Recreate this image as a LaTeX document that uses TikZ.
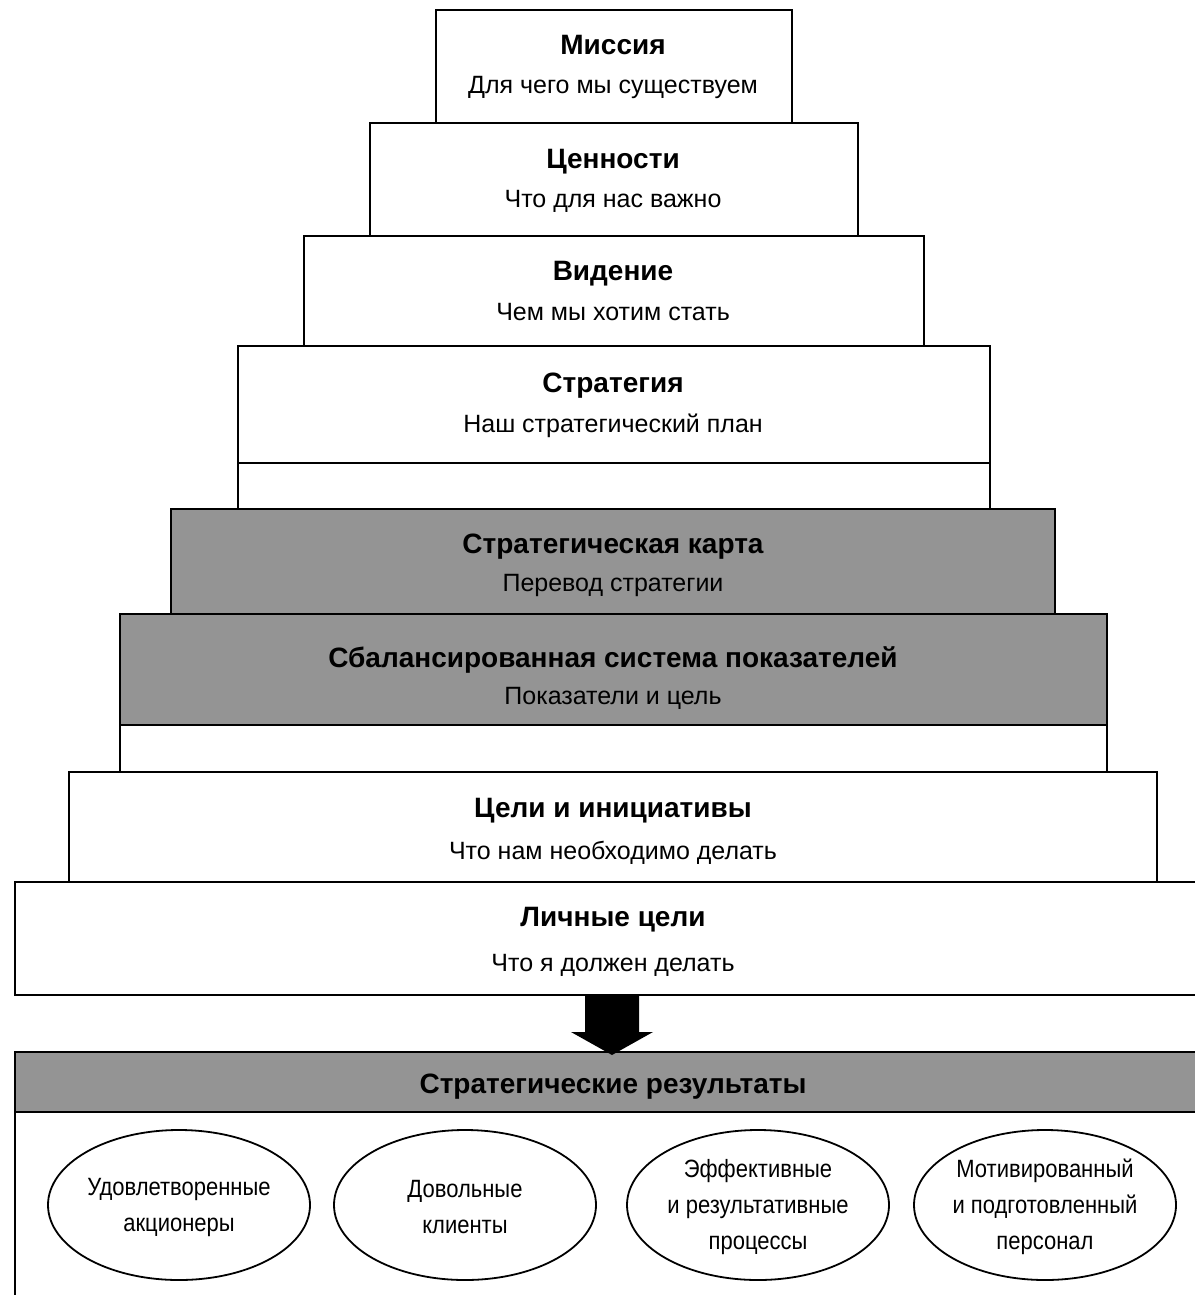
\documentclass[tikz,border=0pt]{standalone}
\usepackage{fontspec}
\setmainfont{Liberation Sans}
\newfontfamily\ovalfont{Liberation Sans}[FakeStretch=0.88]
\begin{document}
\begin{tikzpicture}[x=1pt,y=-1pt,
  box/.style={draw, line width=2.2pt, fill=white},
  shaded/.style={draw, line width=2.2pt, fill=black!42},
  ttl/.style={anchor=base, font=\bfseries\fontsize{28}{32}\selectfont, inner sep=0pt},
  sub/.style={anchor=base, font=\fontsize{25}{30}\selectfont, inner sep=0pt},
  otext/.style={inner sep=0pt, align=center, font=\ovalfont\fontsize{25}{36}\selectfont},
  oval/.style={draw, line width=1.8pt}]
\useasboundingbox (0,0) rectangle (1194,1295);

% boxes
\draw[box] (436,10) rectangle (792,123);
\draw[box] (370,123) rectangle (858,236);
\draw[box] (304,236) rectangle (924,346);
\draw[box] (238,346) rectangle (990,509);
\draw[line width=2.2pt] (238,463) -- (990,463);
\draw[shaded] (171,509) rectangle (1055,614);
\draw[box] (120,725) rectangle (1107,772);
\draw[shaded] (120,614) rectangle (1107,725);
\draw[box] (69,772) rectangle (1157,882);
\draw[box] (15,882) rectangle (1215,995);
\draw[box] (15,1112) rectangle (1215,1300);
\draw[shaded] (15,1052) rectangle (1215,1112);

% texts
\node[ttl] (t1) at (613,55) {Миссия};
\node[sub] (s1) at (613,94) {Для чего мы существуем};
\node[ttl] (t2) at (613,168) {Ценности};
\node[sub] (s2) at (613,207) {Что для нас важно};
\node[ttl] (t3) at (613,280) {Видение};
\node[sub] (s3) at (613,320) {Чем мы хотим стать};
\node[ttl] (t4) at (613,392) {Стратегия};
\node[sub] (s4) at (613,432) {Наш стратегический план};
\node[ttl] (t5) at (613,553) {Стратегическая карта};
\node[sub] (s5) at (613,591) {Перевод стратегии};
\node[ttl] (t6) at (613,667) {Сбалансированная система показателей};
\node[sub] (s6) at (613,704) {Показатели и цель};
\node[ttl] (t7) at (613,817) {Цели и инициативы};
\node[sub] (s7) at (613,859) {Что нам необходимо делать};
\node[ttl] (t8) at (613,926) {Личные цели};
\node[sub] (s8) at (613,971) {Что я должен делать};
\node[ttl] (t9) at (613,1093) {Стратегические результаты};

% arrow
\coordinate (atop) at (612,996);
\coordinate (atip) at (612,1055);
\fill ([xshift=-27pt]atop) -- ([xshift=27pt]atop) -- ([xshift=27pt]atop |- 0,1032) -- ([xshift=41pt]atop |- 0,1032)
  -- (atip) -- ([xshift=-41pt]atop |- 0,1032) -- ([xshift=-27pt]atop |- 0,1032) -- cycle;

% ellipses
\node[otext] (e1) at (179,1207) {Удовлетворенные\\акционеры};
\node[otext] (e2) at (465,1207) {Довольные\\клиенты};
\node[otext] (e3) at (758,1207) {Эффективные\\и результативные\\процессы};
\node[otext] (e4) at (1045,1207) {Мотивированный\\и подготовленный\\персонал};
\foreach \e in {e1,e2,e3,e4}
  \draw[oval] (\e.center |- 0,1205) ellipse [x radius=131, y radius=75];
\end{tikzpicture}
\end{document}
